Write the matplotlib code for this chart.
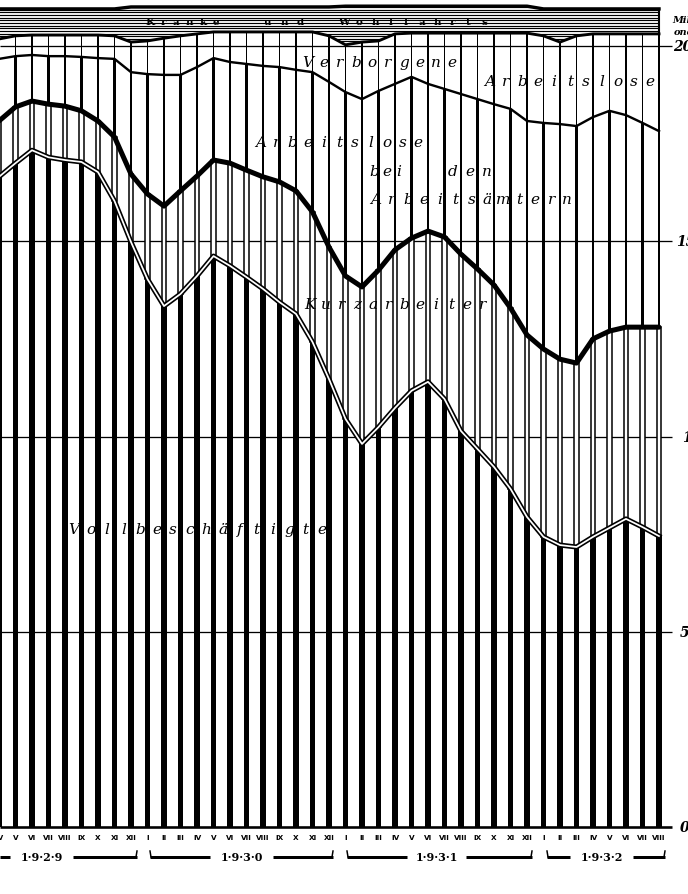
import numpy as np
import matplotlib
matplotlib.use("Agg")
import matplotlib.pyplot as plt
from matplotlib.patches import Polygon

# ---------------- data (millions) ----------------
monate = (["IV", "V", "VI", "VII", "VIII", "IX", "X", "XI", "XII"]
          + ["I", "II", "III", "IV", "V", "VI", "VII", "VIII", "IX", "X", "XI", "XII"] * 2
          + ["I", "II", "III", "IV", "V", "VI", "VII", "VIII"])
jahre = ["1929", "1930", "1931", "1932"]
monate_je_jahr = [9, 12, 12, 8]

vollbeschaeftigte = [16.65, 17.00, 17.33, 17.15, 17.08, 17.03, 16.77, 16.03, 14.98,
                     14.03, 13.34, 13.65, 14.11, 14.62, 14.37, 14.08, 13.78, 13.44, 13.14, 12.42, 11.47,
                     10.45, 9.81, 10.24, 10.73, 11.17, 11.40, 10.96, 10.14, 9.68, 9.22, 8.66, 7.94,
                     7.43, 7.22, 7.17, 7.43, 7.66, 7.89, 7.68, 7.45]
kurzarbeiter = [1.43, 1.44, 1.26, 1.36, 1.38, 1.31, 1.31, 1.64, 1.74,
                2.18, 2.56, 2.64, 2.56, 2.46, 2.63, 2.74, 2.87, 3.08, 3.15, 3.33, 3.38,
                3.66, 4.02, 4.02, 4.05, 3.91, 3.86, 4.15, 4.53, 4.61, 4.66, 4.63, 4.66,
                4.81, 4.76, 4.71, 5.07, 5.04, 4.91, 5.12, 5.35]
arbeitslose = [1.59, 1.30, 1.18, 1.23, 1.28, 1.38, 1.61, 2.00, 2.61,
               3.07, 3.36, 2.97, 2.79, 2.61, 2.59, 2.72, 2.84, 2.94, 3.10, 3.58, 4.23,
               4.71, 4.81, 4.59, 4.25, 4.13, 3.77, 3.79, 4.10, 4.35, 4.63, 5.10, 5.48,
               5.79, 6.02, 6.07, 5.68, 5.64, 5.43, 5.23, 5.02]
verborgene = [0.51, 0.52, 0.51, 0.54, 0.54, 0.56, 0.59, 0.59, 0.77,
              0.85, 0.94, 1.00, 0.85, 0.67, 0.77, 0.82, 0.87, 0.90, 0.97, 1.03, 1.18,
              1.21, 1.46, 1.28, 1.28, 1.12, 1.30, 1.43, 1.56, 1.69, 1.82, 1.94, 2.25,
              2.23, 2.10, 2.31, 2.13, 1.97, 2.08, 2.28, 2.49]
kranke = [0.77, 0.69, 0.67, 0.67, 0.67, 0.67, 0.67, 0.69, 0.90,
          0.87, 0.80, 0.74, 0.69, 0.64, 0.64, 0.64, 0.64, 0.64, 0.64, 0.64, 0.74,
          0.99, 0.92, 0.89, 0.71, 0.69, 0.69, 0.69, 0.69, 0.69, 0.69, 0.69, 0.69,
          0.69, 0.85, 0.69, 0.64, 0.64, 0.64, 0.64, 0.64]
y_ticks = [0, 5, 10, 15, 20]
y_tick_labels = ["0", "5", "10", "15", "20"]

# ---------------- layout helpers ----------------
W, H = 688, 895
X_STEP, X0 = 16.5, -1.0       # pixels per month, pixel of first month
Y_UNIT, Y0 = 39.05, 828.0     # pixels per million, pixel of zero


def px2x(p):
    return (p - X0) / X_STEP


def py2y(p):
    return (Y0 - p) / Y_UNIT


fig = plt.figure(figsize=(W / 100, H / 100), dpi=100)
ax = fig.add_axes([0, 0, 1, 1])
ax.set_xlim(px2x(0), px2x(W))
ax.set_ylim(py2y(H), py2y(0))
ax.axis("off")

x = np.arange(len(vollbeschaeftigte))
v = np.array(vollbeschaeftigte)
k = np.array(kurzarbeiter)
a = np.array(arbeitslose)
b = np.array(verborgene)
kr = np.array(kranke)
l1 = v
l2 = l1 + k
l3 = l2 + a
l4 = l3 + b
l5 = l4 + kr

PX = 0.72  # points per pixel

# grid lines / ticks
ax.hlines(y_ticks[1:], px2x(0), px2x(672), color="black", lw=1.0 * PX * 1.3, zorder=1)
ax.hlines([0], px2x(0), px2x(672), color="black", lw=2.6 * PX, zorder=6)

# bars
ax.bar(x, v, width=0.35, color="black", zorder=2)
ax.bar(x, k, bottom=l1, width=0.30, facecolor="white", edgecolor="black",
       linewidth=1.1, zorder=2)
ax.bar(x, a, bottom=l2, width=0.16, color="black", zorder=2)
ax.bar(x, b, bottom=l3, width=0.08, color="black", zorder=2)

# top band (hatched horizontally)
poly_pts = np.column_stack([np.concatenate([x, x[::-1]]), np.concatenate([l4, l5[::-1]])])
band = Polygon(poly_pts, closed=True, facecolor="white", edgecolor="none", zorder=3)
ax.add_patch(band)
levels = np.arange(l4.min() - 0.05, l5.max() + 0.1, 0.068)
hl = ax.hlines(levels, x[0], x[-1], color="black", lw=0.9 * PX * 1.3, zorder=3.5)
hl.set_clip_path(band)
ax.plot(x, l5, color="black", lw=2.6 * PX * 1.3, zorder=4, solid_joinstyle="round")
ax.plot([x[-1], x[-1]], [l4[-1], l5[-1]], color="black", lw=1.5, zorder=4)

# boundary lines
ax.plot(x, l4, color="black", lw=2.4 * PX * 1.2, zorder=5, solid_joinstyle="round")
ax.plot(x, l3, color="black", lw=2.0 * PX * 1.2, zorder=5, solid_joinstyle="round")
ax.plot(x, l2, color="black", lw=4.2 * PX * 1.2, zorder=5, solid_joinstyle="round",
        solid_capstyle="round")
ax.plot(x, l1, color="black", lw=4.6 * PX * 1.1, zorder=5, solid_joinstyle="round")
ax.plot(x, l1, color="white", lw=1.6 * PX * 1.1, zorder=5.5, solid_joinstyle="round")

# ---------------- texts ----------------
FONT = "DejaVu Serif"


def spaced(text, x0, x1, ypx, size=11, weight="normal", style="italic"):
    cs = list(text)
    cx = np.linspace(x0, x1, len(cs))
    for c, xc in zip(cs, cx):
        if c != " ":
            ax.text(px2x(xc), py2y(ypx), c, ha="center", va="center", fontsize=size,
                    family=FONT, style=style, weight=weight, zorder=7)


spaced("Verborgene", 308, 452, 63)
spaced("Arbeitslose", 490, 650, 82)
spaced("Arbeitslose", 261, 418, 143)
spaced("bei", 374, 399, 172)
spaced("den", 453, 487, 172)
spaced("Arbeitsämtern", 376, 567, 200)
spaced("Kurzarbeiter", 310, 483, 305)
spaced("Vollbeschäftigte", 74, 322, 530)

# band label
spaced("Kranke", 150, 216, 22, size=7.5, weight="bold", style="normal")
spaced("und", 268, 300, 22, size=7.5, weight="bold", style="normal")
spaced("Wohlfahrts", 344, 484, 22, size=7.5, weight="bold", style="normal")

# right axis labels
for val, lab, xpx in zip(y_ticks, y_tick_labels, [680, 680, 682, 676, 673]):
    ax.text(px2x(xpx), val, lab, ha="left", va="center", fontsize=10, family=FONT,
            style="italic", weight="bold")
ax.text(px2x(672), py2y(20), "Mill", ha="left", va="center", fontsize=7, family=FONT,
        style="italic", weight="bold")
ax.text(px2x(674), py2y(32), "onen", ha="left", va="center", fontsize=7, family=FONT,
        style="italic", weight="bold")

# month labels
for xi, m in zip(x, monate):
    ax.text(xi, py2y(838), m, ha="center", va="center", fontsize=5.2,
            family="DejaVu Serif Condensed", weight="bold")

# year brackets
bracket = {"1929": (0, 137, 13, 70), "1930": (150, 333, 213, 270),
           "1931": (347, 532, 410, 463), "1932": (547, 665, 573, 630)}
yb = py2y(858)
for j in jahre:
    s, e, ls, le = bracket[j]
    ax.plot([px2x(s), px2x(ls - 3)], [yb, yb], color="black", lw=3.0 * PX, solid_capstyle="butt")
    ax.plot([px2x(le + 3), px2x(e)], [yb, yb], color="black", lw=3.0 * PX, solid_capstyle="butt")
    ax.plot([px2x(e - 1), px2x(e)], [yb, py2y(852)], color="black", lw=1.5 * PX)
    if s > 5:
        ax.plot([px2x(s), px2x(s + 1)], [py2y(852), yb], color="black", lw=1.5 * PX)
    ax.text(px2x((ls + le) / 2), yb, "·".join(j), ha="center", va="center", fontsize=8,
            family=FONT, weight="bold")

fig.savefig("out.png", dpi=100, facecolor="white")
